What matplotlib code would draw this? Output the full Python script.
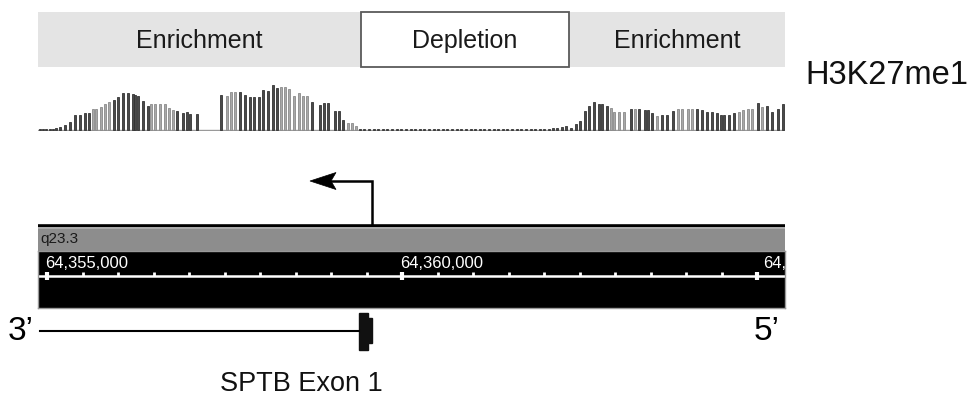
import matplotlib
matplotlib.use("Agg")
import matplotlib.pyplot as plt
from matplotlib.patches import Rectangle, Polygon

plt.rcParams['font.family'] = ['Liberation Sans', 'DejaVu Sans']

# ---------------- data ----------------
region_labels = ["Enrichment", "Depletion", "Enrichment"]
region_bounds = [64354873, 64359423, 64362352, 64365395]

track_name = "H3K27me1"
band_name = "q23.3"
ruler_major = [64355000, 64360000, 64365000]
ruler_labels = ["64,355,000", "64,360,000", "64,365,000"]
ruler_minor_step = 500

gene_start = 64354900
exon_start = 64359394
exon_end = 64359578
tss = 64359578
gene_name = "SPTB Exon 1"

# H3K27me1 signal bars (left enriched block)
left_pos = [64354897, 64354944, 64354986, 64355042, 64355085, 64355131, 64355187,
            64355258, 64355328, 64355399, 64355461, 64355531, 64355587, 64355648,
            64355694, 64355756, 64355821, 64355873, 64355944, 64356000, 64356070,
            64356141, 64356211, 64356244, 64356282, 64356352, 64356423, 64356469,
            64356525, 64356587, 64356658, 64356718, 64356775, 64356835, 64356916,
            64356968, 64357014, 64357117, 64357447, 64357540, 64357587, 64357648,
            64357718, 64357789, 64357859, 64357916, 64357986, 64358038, 64358109,
            64358188, 64358244, 64358292, 64358352, 64358413, 64358483, 64358549,
            64358610, 64358666, 64358728, 64358845, 64358906, 64358962, 64359056,
            64359113, 64359173, 64359244, 64359292, 64359348, 64359409]
left_val = [0.7, 0.7, 0.7, 0.7, 0.7, 1.7, 3.0, 4.7, 8.0, 15.3, 15.3, 17.0, 17.0, 21.3,
            21.3, 23.0, 26.3, 28.3, 30.0, 33.0, 36.7, 36.7, 36.3, 35.0, 33.7, 29.0,
            24.0, 26.3, 26.3, 26.3, 26.3, 22.3, 19.7, 19.0, 17.3, 17.7, 16.0, 16.0,
            35.3, 33.7, 38.3, 38.3, 38.3, 35.3, 32.7, 32.7, 32.7, 40.3, 38.7, 45.0,
            42.0, 43.3, 43.3, 41.0, 33.7, 36.7, 33.7, 33.7, 27.7, 25.0, 26.7, 26.7,
            19.3, 19.3, 10.0, 7.0, 7.0, 4.3, 1.0]
left_tone = "ddddddddddddd" "lllll" "ddddddddd" "llllll" "dddddd" "lll" \
            "ddddddddd" "lllllll" "ddddddd" "lll" "d"

# depleted block (near-zero signal)
mid_pos = [64359470, 64359535, 64359600, 64359665, 64359730, 64359795, 64359860,
           64359925, 64359990, 64360055, 64360120, 64360185, 64360250, 64360315,
           64360380, 64360445, 64360510, 64360575, 64360640, 64360705, 64360770,
           64360835, 64360900, 64360965, 64361030, 64361095, 64361160, 64361225,
           64361290, 64361355, 64361420, 64361485, 64361550, 64361615, 64361680,
           64361745, 64361810, 64361875, 64361940, 64362005, 64362070]
mid_val = [0.8, 0.7, 0.9, 0.8, 0.7, 0.8, 0.9, 0.7, 0.8, 0.8, 0.7, 0.9, 0.8, 0.8,
           0.7, 0.8, 0.9, 0.8, 0.7, 0.8, 0.8, 0.9, 0.7, 0.8, 0.8, 0.7, 0.9, 0.8,
           0.8, 0.7, 0.8, 0.9, 0.8, 0.7, 0.8, 0.8, 0.9, 0.7, 0.8, 1.0, 1.2]

# right enriched block
right_pos = [64362131, 64362188, 64362249, 64362310, 64362376, 64362447, 64362507,
             64362578, 64362634, 64362704, 64362775, 64362822, 64362892, 64362940,
             64362986, 64363057, 64363127, 64363221, 64363282, 64363343, 64363423,
             64363470, 64363517, 64363588, 64363658, 64363729, 64363822, 64363893,
             64363949, 64364033, 64364090, 64364151, 64364230, 64364292, 64364362,
             64364433, 64364489, 64364536, 64364606, 64364681, 64364747, 64364808,
             64364869, 64364926, 64365010, 64365075, 64365137, 64365207, 64365300,
             64365367]
right_val = [1.7, 1.7, 2.7, 4.3, 1.7, 5.7, 9.0, 19.3, 24.0, 27.7, 25.7, 25.7, 24.0,
             21.7, 18.3, 18.3, 18.3, 21.0, 21.0, 21.0, 20.0, 20.0, 16.7, 14.0, 15.0,
             15.0, 19.3, 21.0, 21.0, 21.0, 21.0, 21.0, 20.0, 18.3, 18.3, 16.7, 15.0,
             15.0, 15.0, 16.7, 18.3, 20.0, 21.0, 21.0, 26.7, 22.7, 24.0, 18.3, 21.0,
             25.7]
right_tone = "ddddddddddddd" "llll" "d" "l" "dddd" "l" "ddd" "llll" \
             "ddddddddd" "llll" "d" "l" "dddd"

# ---------------- layout ----------------
W, H = 971, 397
REF_PX, REF_BP, BP_PER_PX = 47.0, 64355000.0, 5000.0 / 355.0


def g(px):
    return REF_BP + (px - REF_PX) * BP_PER_PX


def add_axes_px(fig, x0, y0, x1, y1):
    return fig.add_axes([x0 / W, 1 - y1 / H, (x1 - x0) / W, (y1 - y0) / H])


fig = plt.figure(figsize=(W / 100, H / 100), dpi=100)
fig.patch.set_facecolor("white")

TL, TR = 38, 785

# overlay axes (whole figure, genomic x, pixel y)
ax0 = fig.add_axes([0, 0, 1, 1])
ax0.set_xlim(g(0), g(W))
ax0.set_ylim(H, 0)
ax0.axis("off")

# region band
for i, lab in enumerate(region_labels):
    a, b = region_bounds[i], region_bounds[i + 1]
    if lab == "Depletion":
        ax0.add_patch(Rectangle((a, 12), b - a, 55, fc="white", ec="#5a5a5a", lw=1.3, zorder=2))
    else:
        ax0.add_patch(Rectangle((a, 12), b - a, 55, fc="#e4e4e4", ec="none", zorder=1))
    ax0.text((a + b) / 2, 41, lab, ha="center", va="center", fontsize=18, color="#1a1a1a", zorder=3)

ax0.text(g(805), 75, track_name, ha="left", va="center", fontsize=23.5, color="#111111")

# TSS arrow
ax0.plot([tss, tss, g(330)], [225, 181, 181], color="black", lw=1.8, solid_joinstyle="miter")
ax0.add_patch(Polygon([[g(310), 181], [g(336), 172.5], [g(331), 181], [g(336), 189.5]],
                      closed=True, fc="black", ec="black", lw=0.5))

# chromosome top line
ax0.plot([g(TL), g(TR)], [225.5, 225.5], color="black", lw=2.6, solid_capstyle="butt")

# gene model
ax0.plot([gene_start, exon_start], [331, 331], color="black", lw=1.5)
ax0.add_patch(Rectangle((exon_start, 313), g(368) - exon_start, 37, fc="#111111", ec="#111111", lw=1))
ax0.add_patch(Rectangle((g(366), 318), exon_end - g(366), 25, fc="#111111", ec="#111111", lw=1))
ax0.text(g(21), 332, "3\u2019", ha="center", va="center", fontsize=24, color="black")
ax0.text(g(767), 332, "5\u2019", ha="center", va="center", fontsize=24, color="black")
ax0.text((exon_start + exon_end) / 2 - 900, 384, gene_name, ha="center", va="center",
         fontsize=19.5, color="#111111")

# signal track
axt = add_axes_px(fig, TL, 85, TR, 131)
axt.set_xlim(g(TL), g(TR))
axt.set_ylim(-1, 45)
axt.axis("off")
axt.axhline(0, color="#9a9a9a", lw=1.0, zorder=1)
dark, light = "#4a4a4a", "#a8a8a8"
for pos, val, tone in [(left_pos, left_val, left_tone),
                       (mid_pos, mid_val, "d" * len(mid_pos)),
                       (right_pos, right_val, right_tone)]:
    cols = [dark if t == "d" else light for t in tone]
    edges = ["#333333" if t == "d" else "#8a8a8a" for t in tone]
    axt.bar(pos, val, width=28, bottom=0, color=cols, edgecolor=edges, linewidth=0.6, zorder=2)

# cytoband strip
axb = add_axes_px(fig, TL, 227, TR, 251)
axb.set_xlim(g(TL), g(TR))
axb.set_ylim(24, 0)
axb.set_facecolor("#8d8d8d")
axb.set_xticks([]); axb.set_yticks([])
for s in axb.spines.values():
    s.set_visible(False)
axb.axhline(1, color="#b0b0b0", lw=1.2)
axb.text(g(TL + 2), 12, band_name, ha="left", va="center", fontsize=11, color="#1a1a1a")

# ruler
axr = add_axes_px(fig, TL, 251, TR, 308)
axr.set_xlim(g(TL), g(TR))
axr.set_ylim(57, 0)
axr.set_facecolor("black")
axr.set_xticks([]); axr.set_yticks([])
for s in axr.spines.values():
    s.set_edgecolor("#9a9a9a")
    s.set_linewidth(1.0)
axr.axhline(25, color="white", lw=1.8)
t = ruler_major[0] - ruler_minor_step
lo, hi = g(TL), g(TR)
while t <= hi:
    if t >= lo:
        if t in ruler_major:
            axr.plot([t, t], [21, 29], color="white", lw=3.0, solid_capstyle="butt")
        else:
            axr.plot([t, t], [21, 25], color="white", lw=2.0, solid_capstyle="butt")
    t += ruler_minor_step
for k, (pos, lab) in enumerate(zip(ruler_major, ruler_labels)):
    # the last label is shifted right by the browser so that only its start is visible
    shift = -30 if k < len(ruler_major) - 1 else 90
    axr.text(pos + shift, 13, lab, ha="left", va="center", fontsize=12, color="white", clip_on=True)

fig.savefig("out.png", dpi=100, facecolor="white")
